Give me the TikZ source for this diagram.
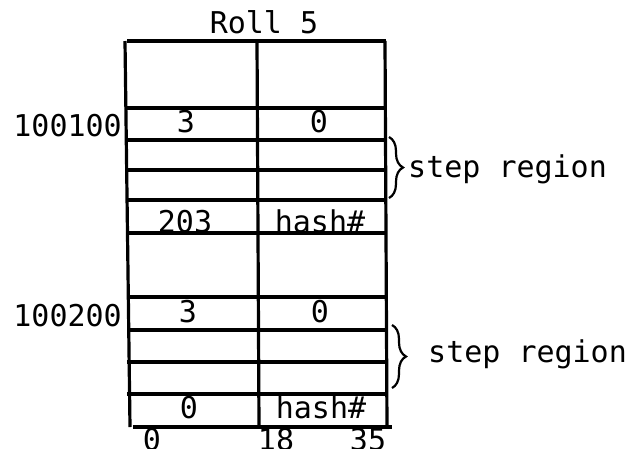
\documentclass[tikz,border=0pt]{standalone}
\usepackage{fontspec}
\setmainfont{DejaVu Sans Mono}
\usetikzlibrary{decorations.pathreplacing}
\begin{document}
\begin{tikzpicture}[x=1pt,y=-1pt,
  rule/.style={line width=3.2pt},
  lbl/.style={inner sep=0pt,font=\fontsize{30}{32}\selectfont},
  bracestyle/.style={line width=2.2pt,decorate,decoration={brace,amplitude=14pt}}]
\useasboundingbox (0,0) rectangle (640,448);
\clip (0,0) rectangle (640,448);
% table frame
\draw[rule] (127,41) -- (386,41);
\draw[rule] (125,41) -- (130,427);
\draw[rule] (257,41) -- (259,427);
\draw[rule] (385,41) -- (387,427);
\draw[rule] (133,427) -- (392,427);
% horizontal rows
\foreach \yy in {108,140,170,200,233,297,330,362,394}
  \draw[rule] (127,\yy) -- (386,\yy);
% labels
\node[lbl,anchor=base] (title) at (264,33) {Roll 5};
\node[lbl,anchor=base east] (a1) at (122,136) {100100};
\node[lbl,anchor=base east] (a2) at (122,326) {100200};
\node[lbl,anchor=base] (c11) at (186,132) {3};
\node[lbl,anchor=base] (c12) at (319,132) {0};
\node[lbl,anchor=base] (c21) at (185,232) {203};
\node[lbl,anchor=base] (c22) at (320,232) {hash\#};
\node[lbl,anchor=base] (c31) at (188,322) {3};
\node[lbl,anchor=base] (c32) at (320,322) {0};
\node[lbl,anchor=base] (c41) at (189,418) {0};
\node[lbl,anchor=base] (c42) at (321,418) {hash\#};
\node[lbl,anchor=base] (b0) at (152,450) {0};
\node[lbl,anchor=base] (b18) at (276,450) {18};
\node[lbl,anchor=base] (b35) at (368,450) {35};
% braces
\coordinate (s1t) at (389,137);
\coordinate (s1b) at (389,198);
\coordinate (s2t) at (392,325);
\coordinate (s2b) at (392,388);
\draw[bracestyle] (s1t) -- (s1b);
\draw[bracestyle] (s2t) -- (s2b);
\node[lbl,anchor=base west] (r1) at (408,177) {step region};
\node[lbl,anchor=base west] (r2) at (428,362) {step region};
\end{tikzpicture}
\end{document}
